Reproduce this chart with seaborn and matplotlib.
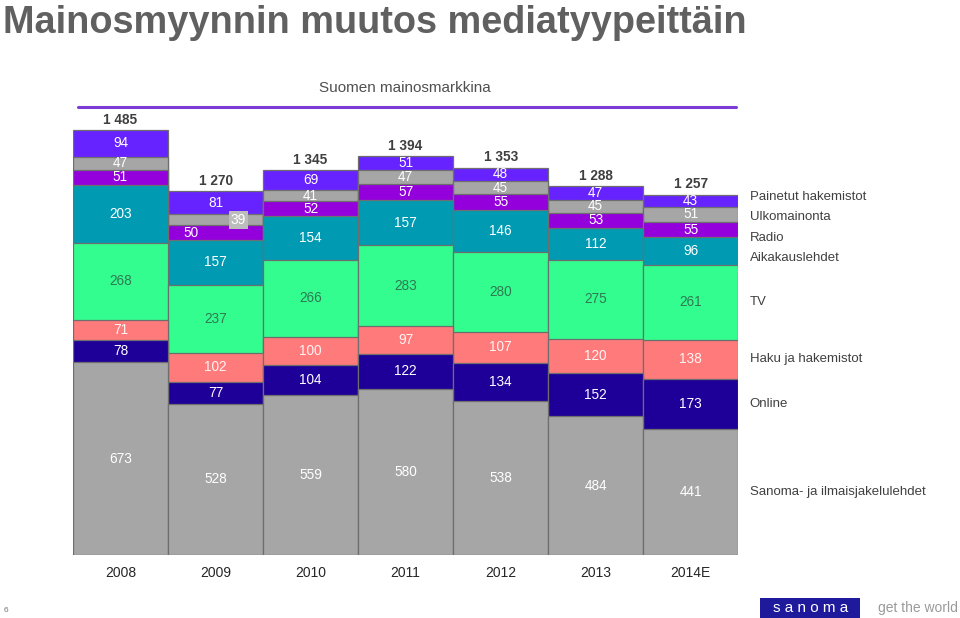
import numpy as np
import pandas as pd
import matplotlib
matplotlib.use("Agg")
import matplotlib.pyplot as plt
import seaborn as sns
from matplotlib.lines import Line2D
from matplotlib.patches import Rectangle

years = ["2008", "2009", "2010", "2011", "2012", "2013", "2014E"]
sanoma = [673, 528, 559, 580, 538, 484, 441]
online = [78, 77, 104, 122, 134, 152, 173]
haku = [71, 102, 100, 97, 107, 120, 138]
tv = [268, 237, 266, 283, 280, 275, 261]
aikakaus = [203, 157, 154, 157, 146, 112, 96]
radio = [51, 50, 52, 57, 55, 53, 55]
ulko = [47, 39, 41, 47, 45, 45, 51]
painetut = [94, 81, 69, 51, 48, 47, 43]
totals = ["1 485", "1 270", "1 345", "1 394", "1 353", "1 288", "1 257"]

series_names = ["Sanoma- ja ilmaisjakelulehdet", "Online", "Haku ja hakemistot", "TV",
                "Aikakauslehdet", "Radio", "Ulkomainonta", "Painetut hakemistot"]
series_vals = [sanoma, online, haku, tv, aikakaus, radio, ulko, painetut]
colors = ["#a6a6a6", "#1e0099", "#ff7b7b", "#33fd8f", "#009bb2", "#9400dc", "#a6a6a6", "#6623ff"]
text_colors = ["white", "white", "#fff4f4", "#2f7a52", "white", "white", "white", "white"]

sns.set_theme(style="white")
plt.rcParams["font.family"] = ["Liberation Sans", "DejaVu Sans"]

fig = plt.figure(figsize=(9.6, 6.18), dpi=100)
ax = fig.add_axes([0.076, 0.102, 0.693, 0.725])

data = np.array(series_vals, dtype=float)
cum = np.cumsum(data, axis=0)

# Draw cumulative bars from top layer down so lower layers overlay
for i in range(len(series_names) - 1, -1, -1):
    df = pd.DataFrame({"year": years, "value": cum[i]})
    sns.barplot(data=df, x="year", y="value", color=colors[i], width=1.0,
                edgecolor="#6e6e6e", linewidth=0.9, saturation=1, ax=ax, errorbar=None)

ax.set_xlim(-0.5, 6.5)
ax.set_ylim(0, 1565)
for s in ax.spines.values():
    s.set_visible(False)
ax.set_yticks([])
ax.set_ylabel("")
ax.set_xlabel("")
ax.tick_params(axis="x", length=0, pad=8, labelsize=10, labelcolor="#262626")

# Segment labels
for i in range(len(series_names)):
    for j in range(len(years)):
        bottom = cum[i][j] - data[i][j]
        yc = bottom + data[i][j] / 2
        xc = j
        kw = {}
        if years[j] == "2009" and series_names[i] == "Radio":
            xc = j - 0.26
        if years[j] == "2009" and series_names[i] == "Ulkomainonta":
            xc = j + 0.24
            kw = dict(bbox=dict(boxstyle="square,pad=0.15", fc="#bcbcbc", ec="none"))
        ax.text(xc, yc, str(int(data[i][j])), ha="center", va="center",
                fontsize=9.8, color=text_colors[i], **kw)

# Totals
for j in range(len(years)):
    ax.text(j, cum[-1][j] + 36, totals[j], ha="center", va="center",
            fontsize=9.8, fontweight="bold", color="#3f3f3f")

# Legend labels at right, aligned to last bar segments
last = len(years) - 1
centers = np.array([cum[i][last] - data[i][last] / 2 for i in range(len(series_names))])
top_idx = [4, 5, 6, 7]
mean_top = centers[top_idx].mean() - 12
spacing = 71
for k, idx in enumerate(top_idx):
    centers[idx] = mean_top + (k - 1.5) * spacing
for i, name in enumerate(series_names):
    ax.text(6.62, centers[i], name, ha="left", va="center", fontsize=9.5,
            color="#404040", clip_on=False)

# Title and subtitle
fig.text(0.003, 0.946, "Mainosmyynnin muutos mediatyypeittäin", ha="left", va="baseline",
         fontsize=27.3, fontweight="bold", color="#606060")
fig.text(0.422, 0.857, "Suomen mainosmarkkina", ha="center", va="center",
         fontsize=11, color="#505050")
fig.add_artist(Line2D([0.081, 0.767], [0.827, 0.827], transform=fig.transFigure,
                      color="#7a3bd6", linewidth=2.2))

# Footer
fig.text(0.004, 0.006, "6", fontsize=6, color="#777777", ha="left", va="bottom")
fig.add_artist(Rectangle((0.792, 0.0), 0.104, 0.032, transform=fig.transFigure,
                         facecolor="#1f1a9c", edgecolor="none"))
fig.text(0.844, 0.016, "s a n o m a", fontsize=11, color="white", ha="center", va="center")
fig.text(0.998, 0.016, "get the world", fontsize=10, color="#9a9a9a", ha="right", va="center")

fig.savefig("out.png", dpi=100)
